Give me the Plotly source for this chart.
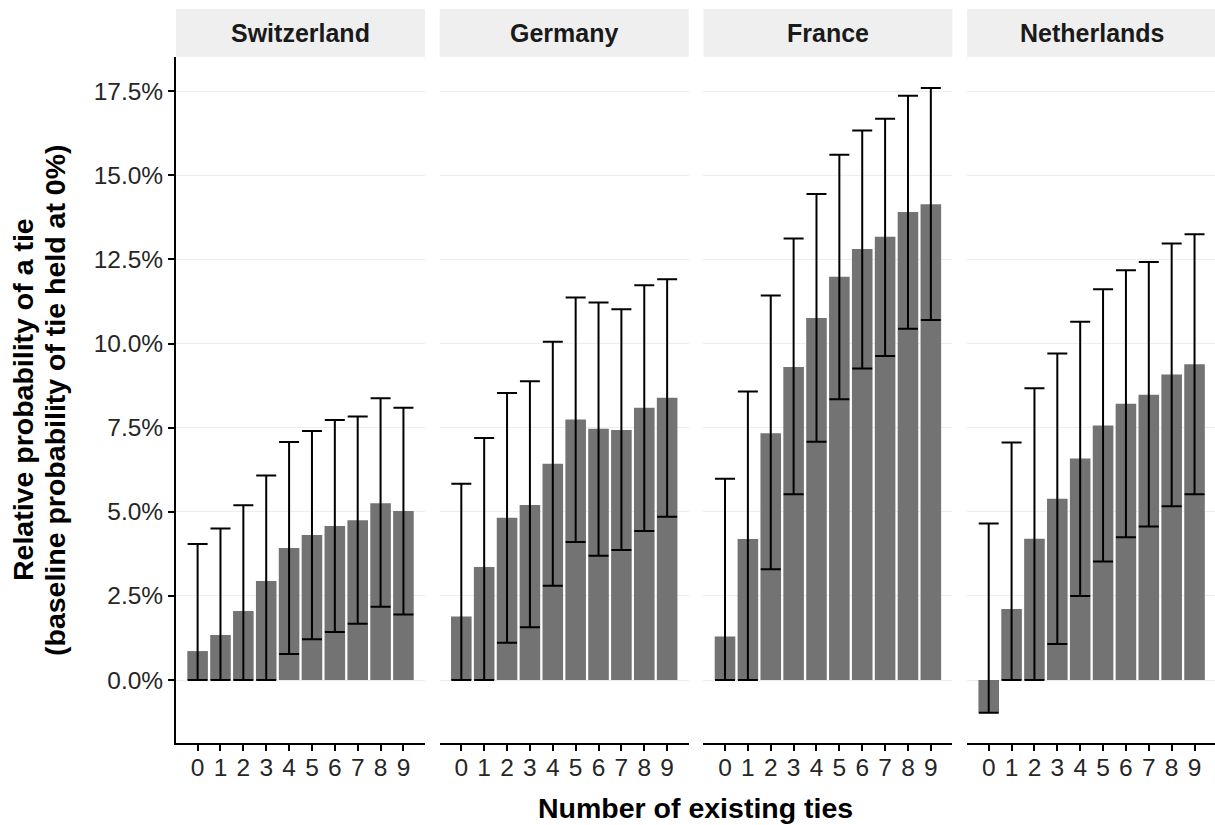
import plotly.graph_objects as go

W, H = 1215, 825

countries = ["Switzerland", "Germany", "France", "Netherlands"]
ties = [0, 1, 2, 3, 4, 5, 6, 7, 8, 9]

# Relative probability (%) and confidence bounds (%)
switzerland_est = [0.86, 1.34, 2.05, 2.94, 3.92, 4.31, 4.58, 4.75, 5.25, 5.02]
switzerland_hi = [4.04, 4.50, 5.19, 6.08, 7.07, 7.40, 7.73, 7.83, 8.37, 8.09]
switzerland_lo = [0.0, 0.0, 0.0, 0.0, 0.77, 1.21, 1.43, 1.67, 2.18, 1.95]

germany_est = [1.89, 3.36, 4.82, 5.20, 6.43, 7.74, 7.47, 7.43, 8.09, 8.39]
germany_hi = [5.83, 7.19, 8.53, 8.88, 10.05, 11.37, 11.22, 11.02, 11.73, 11.91]
germany_lo = [0.0, 0.0, 1.11, 1.57, 2.80, 4.10, 3.69, 3.86, 4.43, 4.85]

france_est = [1.29, 4.19, 7.33, 9.30, 10.76, 11.98, 12.81, 13.17, 13.91, 14.14]
france_hi = [5.98, 8.57, 11.43, 13.12, 14.44, 15.61, 16.33, 16.68, 17.36, 17.59]
france_lo = [0.0, 0.0, 3.29, 5.52, 7.08, 8.34, 9.26, 9.63, 10.44, 10.70]

netherlands_est = [-0.97, 2.11, 4.20, 5.39, 6.58, 7.56, 8.21, 8.48, 9.08, 9.38]
netherlands_hi = [4.65, 7.06, 8.67, 9.70, 10.65, 11.61, 12.18, 12.42, 12.97, 13.25]
netherlands_lo = [-0.97, 0.0, 0.0, 1.07, 2.50, 3.52, 4.24, 4.56, 5.16, 5.52]

y_tick_vals = [0.0, 2.5, 5.0, 7.5, 10.0, 12.5, 15.0, 17.5]
y_tick_text = ["0.0%", "2.5%", "5.0%", "7.5%", "10.0%", "12.5%", "15.0%", "17.5%"]

x_title = "Number of existing ties"
y_title_lines = ["Relative probability of a tie",
                 "(baseline probability of tie held at 0%)"]

series = [
    (switzerland_est, switzerland_hi, switzerland_lo),
    (germany_est, germany_hi, germany_lo),
    (france_est, france_hi, france_lo),
    (netherlands_est, netherlands_hi, netherlands_lo),
]

# ---- layout geometry (pixels) ----
unit_px = 22.87
xr0 = -0.945
panel_w = 10.89 * unit_px
pitch = 263.7
lefts = [176.0 + i * pitch for i in range(4)]
panel_top, panel_bot = 57.0, 743.0
strip_top = 9.0
y_range = [-1.872, 18.514]

FONT = "Liberation Sans, Arial, sans-serif"
TICK_COLOR = "#262626"

fig = go.Figure()
layout = dict(
    width=W, height=H,
    margin=dict(l=0, r=0, t=0, b=0),
    plot_bgcolor="white", paper_bgcolor="white",
    showlegend=False,
    font=dict(family=FONT, color="#000000"),
)

shapes = []
annotations = []

for i, (name, (est, hi, lo)) in enumerate(zip(countries, series)):
    sfx = "" if i == 0 else str(i + 1)
    xa = "x" + sfx
    ya = "y" + sfx
    left = lefts[i]
    right = min(left + panel_w, W)
    xr1 = xr0 + (right - left) / unit_px
    up = [h - e for h, e in zip(hi, est)]
    down = [e - l for e, l in zip(est, lo)]
    fig.add_trace(go.Bar(
        x=ties, y=est, xaxis=xa, yaxis=ya,
        width=0.9,
        marker=dict(color="#737373", line=dict(width=0)),
        error_y=dict(type="data", symmetric=False, array=up, arrayminus=down,
                     color="black", thickness=2, width=10),
        hoverinfo="skip",
    ))
    layout["xaxis" + sfx] = dict(
        domain=[left / W, right / W], anchor=ya,
        range=[xr0, xr1], tickmode="array", tickvals=ties,
        ticktext=[str(t) for t in ties],
        showline=True, linecolor="black", linewidth=2,
        ticks="outside", ticklen=6, tickwidth=2, tickcolor="black",
        ticklabelstandoff=-4,
        tickfont=dict(family=FONT, size=24.5, color=TICK_COLOR),
        showgrid=False, zeroline=False, fixedrange=True,
    )
    yd = dict(
        domain=[(H - panel_bot) / H, (H - panel_top) / H], anchor=xa,
        range=y_range, tickmode="array", tickvals=y_tick_vals,
        ticktext=y_tick_text,
        showgrid=True, gridcolor="#EDEDED", gridwidth=1,
        zeroline=False, fixedrange=True,
    )
    if i == 0:
        yd.update(showline=True, linecolor="black", linewidth=2,
                  ticks="outside", ticklen=6, tickwidth=2, tickcolor="black",
                  tickfont=dict(family=FONT, size=24.5, color=TICK_COLOR),
                  showticklabels=True)
    else:
        yd.update(showline=False, ticks="", showticklabels=False)
    layout["yaxis" + sfx] = yd

    # facet strip
    shapes.append(dict(
        type="rect", xref="paper", yref="paper",
        x0=left / W, x1=right / W,
        y0=(H - panel_top) / H, y1=(H - strip_top) / H,
        fillcolor="#EFEFEF", line=dict(width=0), layer="below",
    ))
    annotations.append(dict(
        text="<b>%s</b>" % name, xref="paper", yref="paper",
        x=(left + panel_w / 2) / W, y=(H - (strip_top + panel_top) / 2) / H,
        xanchor="center", yanchor="middle", showarrow=False,
        font=dict(family=FONT, size=25, color="#1A1A1A"),
    ))

# axis titles
annotations.append(dict(
    text="<b>%s</b>" % x_title, xref="paper", yref="paper",
    x=(lefts[0] + W) / 2 / W, y=(H - 808) / H,
    xanchor="center", yanchor="middle", showarrow=False,
    font=dict(family=FONT, size=28.5, color="black"),
))
for xc, line in zip([23, 55], y_title_lines):
    annotations.append(dict(
        text="<b>%s</b>" % line,
        xref="paper", yref="paper",
        x=xc / W, y=(H - (panel_top + panel_bot) / 2) / H,
        xanchor="center", yanchor="middle", showarrow=False, textangle=-90,
        font=dict(family=FONT, size=28.5, color="black"),
    ))

layout["shapes"] = shapes
layout["annotations"] = annotations
fig.update_layout(**layout)

fig.write_html("out.html", config={"displayModeBar": False},
               post_script="document.body.style.margin='0';")
